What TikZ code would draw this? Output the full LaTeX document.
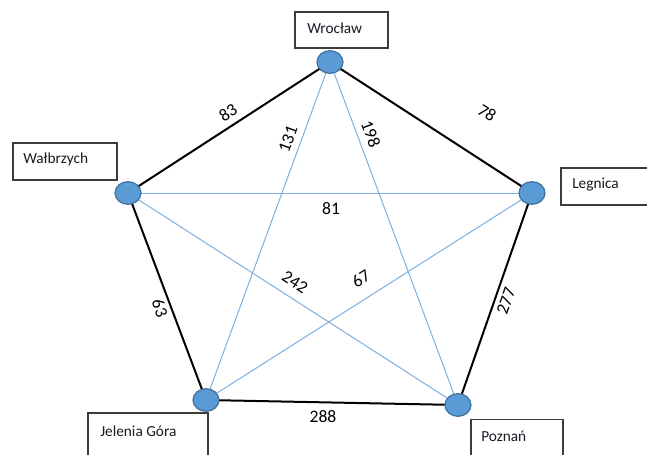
\documentclass[tikz,border=0pt]{standalone}
\usepackage{fontspec}
\setmainfont{Carlito}
\usetikzlibrary{shapes.geometric}
\pgfdeclarelayer{background}
\pgfsetlayers{background,main}
\definecolor{nodefill}{RGB}{91,155,213}
\definecolor{nodeline}{RGB}{65,113,156}
\definecolor{diag}{RGB}{125,175,225}
\definecolor{boxline}{RGB}{60,60,60}
\definecolor{txt}{RGB}{25,25,35}
\begin{document}
\begin{tikzpicture}[x=0.75pt,y=-0.75pt,
  city/.style={ellipse,draw=nodeline,fill=nodefill,line width=0.9pt,inner sep=0pt,minimum width=19.5pt,minimum height=17pt},
  lbox/.style={draw=boxline,line width=0.8pt,fill=white,inner sep=0pt},
  ltext/.style={anchor=west,inner sep=0pt,text=txt,font=\fontsize{11.5}{13}\selectfont},
  edge/.style={line width=1.5pt,black},
  diagline/.style={line width=0.75pt,diag},
  num/.style={inner sep=0pt,text=black,font=\fontsize{13.2}{15}\selectfont}]
\useasboundingbox (0,0) rectangle (647,454);
% vertices
\node[city] (wr) at (330,62) {};
\node[city] (wa) at (128,193) {};
\node[city] (le) at (532,193) {};
\node[city] (jg) at (206,400) {};
\node[city] (po) at (458,405) {};
% edges (behind nodes)
\begin{pgfonlayer}{background}
\path[diagline] (wr.center) edge (jg.center) edge (po.center);
\path[diagline] (wa.center) edge (le.center) edge (po.center);
\path[diagline] (le.center) edge (jg.center);
\path[edge] (wa.center) edge (wr.center);
\path[edge] (wr.center) edge (le.center);
\path[edge] (wa.center) edge (jg.center);
\path[edge] (jg.center) edge (po.center);
\path[edge] (le.center) edge (po.center);
\end{pgfonlayer}
% label boxes
\node[lbox,minimum width=69.75pt,minimum height=27pt] (wrbox) at (341.5,30) {};
\node[ltext] (wrt) at (307,28) {Wrocław};
\node[lbox,minimum width=78pt,minimum height=27.75pt] (wabox) at (65,161.5) {};
\node[ltext] (wat) at (23,159) {Wałbrzych};
\node[lbox,minimum width=74.25pt,minimum height=27.75pt] (lebox) at (610.5,186.5) {};
\node[ltext] (let) at (572,185) {Legnica};
\node[lbox,minimum width=90pt,minimum height=42pt] (jgbox) at (148,441) {};
\node[ltext] (jgt) at (100,431) {Jelenia Góra};
\node[lbox,minimum width=69pt,minimum height=40pt] (pobox) at (517,445.7) {};
\node[ltext] (pot) at (481,436) {Poznań};
% distances
\node[num,rotate=33] (d83) at (228,113) {83};
\node[num,rotate=-33] (d78) at (487,113) {78};
\node[num,rotate=70] (d131) at (288,139) {131};
\node[num,rotate=-69.5] (d198) at (371,134) {198};
\node[num] (d81) at (331,209) {81};
\node[num,rotate=-33] (d242) at (295,282) {242};
\node[num,rotate=32.5] (d67) at (361,279) {67};
\node[num,rotate=-69.5] (d63) at (160,308) {63};
\node[num,rotate=70.5] (d277) at (506,301) {277};
\node[num] (d288) at (323,417) {288};
\end{tikzpicture}
\end{document}
